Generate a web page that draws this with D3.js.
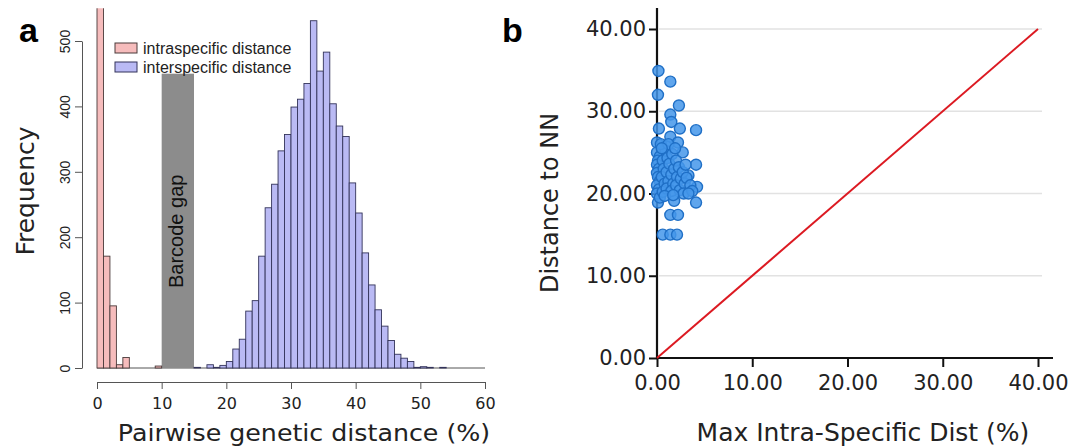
<!DOCTYPE html>
<meta charset="utf-8">
<script src="https://cdn.jsdelivr.net/npm/d3@7"></script>
<style>
  body { margin: 0; background: #fff; }
  svg { display: block; }
</style>
<div id="chart"></div>
<script>

// ---- data: panel a (histogram, 1% bins) ----
var intraStart = 0;
var intraCounts = [1200, 171, 95, 5, 16, 0, 0, 0, 0, 3];
var interStart = 15;
var interCounts = [1, 0, 5, 1, 4, 10, 29, 44, 87, 103, 171, 245, 281, 332, 357, 399,
  411, 435, 531, 454, 483, 404, 370, 354, 283, 237, 176, 127, 89, 64, 42, 21, 15, 10,
  1, 2, 1, 0, 1];
var gap = [10, 15, 450];
var xTicksA = [0, 10, 20, 30, 40, 50, 60];
var yTicksA = [0, 100, 200, 300, 400, 500];
var legendA = ["intraspecific distance", "interspecific distance"];

// ---- data: panel b (scatter) ----
var maxIntra = [0.15, 1.4, 0.1, 2.3, 1.4, 1.5, 2.4, 4.1, 0.2, 1.4, 0.0, 2.2, 1.0, 2.7, 4.1, 3.3,
  4.2, 4.1, 1.8, 0.1, 1.4, 2.2, 0.6, 1.4, 2.1,
  0.0, 0.3, 0.1, 0.0, 0.2, 0.0, 0.1, 0.3, 0.0, 0.2, 0.0, 0.3, 0.6, 0.7, 0.5, 0.8, 0.6, 0.9,
  1.1, 1.0, 1.2, 1.0, 1.3, 1.5, 1.6, 1.7, 1.8, 1.5, 2.0, 2.1, 2.0, 2.3, 2.5, 2.4, 2.7, 2.9,
  2.8, 3.1, 3.5, 3.7, 3.3, 0.4, 1.2, 1.9, 0.8, 3.0, 0.5, 1.7];
var distNN = [34.9, 33.6, 32.0, 30.7, 29.6, 28.7, 27.9, 27.7, 27.9, 26.9, 26.2, 26.2, 25.7, 25.0,
  23.5, 22.2, 20.8, 18.9, 19.1, 18.9, 17.4, 17.4, 15.0, 15.0, 15.0,
  25.0, 24.5, 24.0, 23.5, 23.0, 22.5, 22.0, 21.5, 21.0, 20.5, 20.0, 19.5, 24.0, 23.0, 22.0,
  21.2, 20.2, 25.2, 24.3, 22.6, 21.5, 20.6, 23.6, 22.3, 24.8, 21.2, 23.0, 20.3, 24.0, 22.0,
  21.0, 23.2, 21.8, 20.4, 22.6, 21.2, 20.0, 21.9, 21.0, 20.3, 20.0, 26.0, 26.0, 25.5, 19.7,
  23.5, 25.5, 19.8];
var ticksB = [0, 10, 20, 30, 40];

var W = 1083, H = 448;
var svg = d3.select("#chart").append("svg")
  .attr("width", W).attr("height", H);

// ================= panel a =================
var xa = d3.scaleLinear().domain([0, 60]).range([97, 485]);
var ya = d3.scaleLinear().domain([0, 500]).range([368, 41]);

svg.append("clipPath").attr("id", "clipA")
  .append("rect").attr("x", 90).attr("y", ya(550)).attr("width", 400).attr("height", ya(0) - ya(550) + 2);

var pa = svg.append("g").attr("clip-path", "url(#clipA)");

function toBins(start, counts) {
  return counts.map(function(c, i) { return {x0: start + i, x1: start + i + 1, n: c}; });
}

// zero line of the histogram
pa.append("line")
  .attr("x1", xa(0)).attr("x2", xa(60))
  .attr("y1", ya(0)).attr("y2", ya(0))
  .attr("stroke", "#555").attr("stroke-width", 1);

// barcode gap
pa.append("rect")
  .attr("x", xa(gap[0])).attr("width", xa(gap[1]) - xa(gap[0]))
  .attr("y", ya(gap[2])).attr("height", ya(0) - ya(gap[2]))
  .attr("fill", "#8c8c8c");

pa.selectAll("rect.intra")
  .data(toBins(intraStart, intraCounts).filter(function(d) { return d.n > 0; }))
  .enter().append("rect")
    .attr("class", "intra")
    .attr("x", function(d) { return xa(d.x0); })
    .attr("width", function(d) { return xa(d.x1) - xa(d.x0); })
    .attr("y", function(d) { return ya(d.n); })
    .attr("height", function(d) { return ya(0) - ya(d.n); })
    .attr("fill", "#f6bcbc")
    .attr("stroke", "#4a3a3a").attr("stroke-width", 0.9);

pa.selectAll("rect.inter")
  .data(toBins(interStart, interCounts).filter(function(d) { return d.n > 0; }))
  .enter().append("rect")
    .attr("class", "inter")
    .attr("x", function(d) { return xa(d.x0); })
    .attr("width", function(d) { return xa(d.x1) - xa(d.x0); })
    .attr("y", function(d) { return ya(d.n); })
    .attr("height", function(d) { return ya(0) - ya(d.n); })
    .attr("fill", "#babaf4")
    .attr("stroke", "#33335a").attr("stroke-width", 0.9);

svg.append("text")
  .attr("transform", "translate(183," + ya(209) + ") rotate(-90)")
  .attr("text-anchor", "middle")
  .attr("font-family", "Liberation Sans, Arial, sans-serif")
  .attr("font-size", 20)
  .attr("fill", "#111")
  .text("Barcode gap");

// axes in R style
var axA = svg.append("g").attr("transform", "translate(0,382)")
  .call(d3.axisBottom(xa).tickValues(xTicksA).tickSize(7).tickPadding(9).tickSizeOuter(0));
axA.select(".domain").attr("stroke", "#555");
axA.selectAll(".tick line").attr("stroke", "#555");
axA.selectAll("text")
  .attr("font-family", "DejaVu Sans, Verdana, sans-serif")
  .attr("font-size", 16).attr("fill", "#222");

var ayA = svg.append("g").attr("transform", "translate(82,0)")
  .call(d3.axisLeft(ya).tickValues(yTicksA).tickSize(7).tickSizeOuter(0));
ayA.select(".domain").attr("stroke", "#555");
ayA.selectAll(".tick line").attr("stroke", "#555");
ayA.selectAll("text")
  .attr("font-family", "Liberation Sans, Arial, sans-serif")
  .attr("font-size", 14).attr("fill", "#222")
  .attr("text-anchor", "middle")
  .attr("x", 0).attr("dy", 0)
  .attr("transform", "translate(-12,0) rotate(-90)");

// legend
var leg = svg.append("g").attr("transform", "translate(115,43)");
leg.selectAll("rect").data(legendA).enter().append("rect")
  .attr("x", 0).attr("y", function(d, i) { return i * 19; })
  .attr("width", 22).attr("height", 10)
  .attr("fill", function(d, i) { return i ? "#babaf4" : "#f6bcbc"; })
  .attr("stroke", function(d, i) { return i ? "#33335a" : "#4a3a3a"; });
leg.selectAll("text").data(legendA).enter().append("text")
  .attr("x", 28).attr("y", function(d, i) { return i * 19 + 11; })
  .attr("font-family", "Liberation Sans, Arial, sans-serif")
  .attr("font-size", 16).attr("fill", "#222")
  .text(function(d) { return d; });

// axis title is wider than tall in the original, hence the x stretch
svg.append("text")
  .attr("transform", "translate(304,441) scale(1.1,1)")
  .attr("text-anchor", "middle")
  .attr("font-family", "DejaVu Sans, Verdana, sans-serif")
  .attr("font-size", 23).attr("fill", "#222")
  .text("Pairwise genetic distance (%)");

svg.append("text")
  .attr("transform", "translate(34,191) rotate(-90)")
  .attr("text-anchor", "middle")
  .attr("font-family", "DejaVu Sans, Verdana, sans-serif")
  .attr("font-size", 25).attr("fill", "#222")
  .text("Frequency");

svg.append("text").attr("x", 19).attr("y", 42)
  .attr("font-family", "Liberation Sans, Arial, sans-serif")
  .attr("font-weight", "bold").attr("font-size", 34).text("a");

// ================= panel b =================
var xb = d3.scaleLinear().domain([0, 40]).range([657, 1038]);
var yb = d3.scaleLinear().domain([0, 40]).range([358, 29]);

svg.append("g").selectAll("line").data(ticksB.slice(1)).enter().append("line")
  .attr("x1", xb(0) + 2).attr("x2", xb(40) + 4)
  .attr("y1", function(d) { return yb(d); }).attr("y2", function(d) { return yb(d); })
  .attr("stroke", "#e2e2e2").attr("stroke-width", 1.5);

var fmt = d3.format(".2f");
var axB = svg.append("g").attr("transform", "translate(0," + yb(0) + ")")
  .call(d3.axisBottom(xb).tickValues(ticksB).tickFormat(fmt).tickSize(9).tickPadding(8).tickSizeOuter(0));
var ayB = svg.append("g").attr("transform", "translate(" + xb(0) + ",0)")
  .call(d3.axisLeft(yb).tickValues(ticksB).tickFormat(fmt).tickSize(8).tickPadding(3).tickSizeOuter(0));
[axB, ayB].forEach(function(g) {
  g.select(".domain").remove();
  g.selectAll(".tick line").attr("stroke", "#111").attr("stroke-width", 2);
  g.selectAll("text")
    .attr("font-family", "DejaVu Sans, Verdana, sans-serif")
    .attr("font-size", 21).attr("fill", "#222");
});
svg.append("line").attr("x1", xb(0) - 1).attr("x2", 1053)
  .attr("y1", yb(0)).attr("y2", yb(0)).attr("stroke", "#111").attr("stroke-width", 2.2);
svg.append("line").attr("x1", xb(0)).attr("x2", xb(0))
  .attr("y1", 8).attr("y2", yb(0) + 1).attr("stroke", "#111").attr("stroke-width", 2.2);

// x = y reference line
svg.append("line")
  .attr("x1", xb(0)).attr("y1", yb(0)).attr("x2", xb(40)).attr("y2", yb(40))
  .attr("stroke", "#dc1a22").attr("stroke-width", 2);

svg.append("g").selectAll("circle").data(d3.range(maxIntra.length)).enter().append("circle")
  .attr("cx", function(i) { return xb(maxIntra[i]); })
  .attr("cy", function(i) { return yb(distNN[i]); })
  .attr("r", 5.5)
  .attr("fill", "#4496ea").attr("fill-opacity", 0.85)
  .attr("stroke", "#1f6fc6").attr("stroke-width", 1.4);

svg.append("text")
  .attr("x", 863).attr("y", 441)
  .attr("text-anchor", "middle")
  .attr("font-family", "DejaVu Sans, Verdana, sans-serif")
  .attr("font-size", 25).attr("fill", "#222")
  .text("Max Intra-Specific Dist (%)");

svg.append("text")
  .attr("transform", "translate(558,203) rotate(-90)")
  .attr("text-anchor", "middle")
  .attr("font-family", "DejaVu Sans, Verdana, sans-serif")
  .attr("font-size", 24).attr("fill", "#222")
  .text("Distance to NN");

svg.append("text").attr("x", 502).attr("y", 42)
  .attr("font-family", "Liberation Sans, Arial, sans-serif")
  .attr("font-weight", "bold").attr("font-size", 34).text("b");

</script>
